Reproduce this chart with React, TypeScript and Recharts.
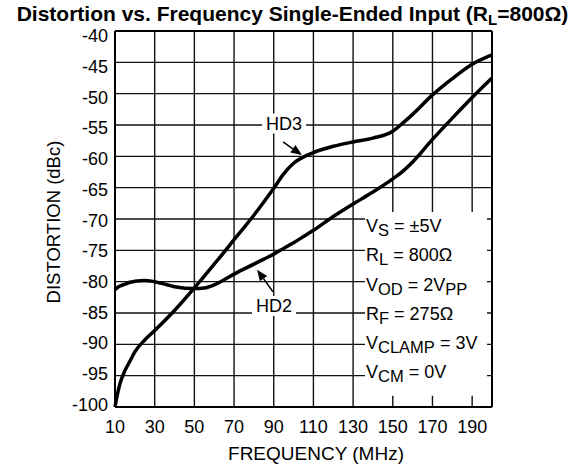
import React from "react";
import {
  LineChart,
  Line,
  XAxis,
  YAxis,
  CartesianGrid,
  ReferenceArea,
  ReferenceLine,
  ReferenceDot,
} from "recharts";

const FONT = "'Liberation Sans', Arial, Helvetica, sans-serif";

// frequency (MHz) and distortion (dBc)
const freq = [10, 11, 12.5, 15, 17.5, 20, 25, 30, 40, 50, 55, 60, 65, 70, 80, 85, 90, 95, 100, 105, 110, 120, 130, 140, 150, 155, 160, 170, 180, 190, 200];
const hd3 = [-100, -98.3, -96.3, -94.2, -92.7, -91.2, -89.3, -87.8, -84.6, -81.0, -79.1, -77.2, -75.3, -73.3, -69.4, -67.3, -65.1, -62.8, -61.1, -60.1, -59.4, -58.4, -57.7, -57.1, -56.0, -54.7, -53.3, -50.2, -47.6, -45.3, -43.8];
const hd2 = [-81.3, -81.0, -80.7, -80.4, -80.1, -79.95, -79.8, -80.0, -80.8, -81.1, -81.0, -80.5, -79.7, -78.8, -77.2, -76.4, -75.6, -74.7, -73.8, -72.8, -71.8, -69.6, -67.6, -65.7, -63.6, -62.4, -60.9, -57.3, -53.9, -50.6, -47.5];

const xTicks = [10, 30, 50, 70, 90, 110, 130, 150, 170, 190];
const yTicks = [-40, -45, -50, -55, -60, -65, -70, -75, -80, -85, -90, -95, -100];

// test conditions: [text, subscript?]
const conditions: [string, boolean][][] = [
  [["V", false], ["S", true], [" = ±5V", false]],
  [["R", false], ["L", true], [" = 800Ω", false]],
  [["V", false], ["OD", true], [" = 2V", false], ["PP", true]],
  [["R", false], ["F", true], [" = 275Ω", false]],
  [["V", false], ["CLAMP", true], [" = 3V", false]],
  [["V", false], ["CM", true], [" = 0V", false]],
];

const data = freq.map((f, i) => ({ f, hd3: hd3[i], hd2: hd2[i] }));

const Arrow = (p: any) => {
  const { x1, y1, x2, y2 } = p;
  const a = Math.atan2(y2 - y1, x2 - x1);
  const len = 11;
  const w = 4.5;
  const bx = x2 - len * Math.cos(a);
  const by = y2 - len * Math.sin(a);
  const px = -Math.sin(a) * w;
  const py = Math.cos(a) * w;
  return (
    <g>
      <line x1={x1} y1={y1} x2={bx} y2={by} stroke="#000" strokeWidth={1.5} />
      <polygon points={`${x2},${y2} ${bx + px},${by + py} ${bx - px},${by - py}`} fill="#000" />
    </g>
  );
};

const tag = (text: string) => (p: any) => (
  <g>
    <rect x={p.cx - 22} y={p.cy - 10} width={44} height={20} fill="#fff" />
    <text x={p.cx} y={p.cy + 6.5} textAnchor="middle" fontSize={18} fontFamily={FONT} fill="#000">
      {text}
    </text>
  </g>
);

const CondBlock = (p: any) => (
  <g fontFamily={FONT} fill="#000">
    {conditions.map((row, i) => (
      <text key={i} x={p.cx} y={p.cy + 20 + i * 29.2} fontSize={18}>
        {row.map(([t, sub], j) => {
          const prevSub = j > 0 && row[j - 1][1];
          const dy = sub ? 4 : prevSub ? -4 : 0;
          return (
            <tspan key={j} dy={dy} fontSize={sub ? 16.5 : 18}>
              {t}
            </tspan>
          );
        })}
      </text>
    ))}
  </g>
);

// the printed y labels drift slightly against the grid, top to bottom
const YTick = (p: any) => {
  const k = (-40 - p.payload.value) / 5;
  const shift = 5 - 0.65 * k;
  return (
    <text x={p.x} y={p.y + shift} dy={6.4} textAnchor="end" fontSize={18} fontFamily={FONT} fill="#000">
      {p.payload.value}
    </text>
  );
};

export default function App() {
  return (
    <div style={{ position: "absolute", left: 0, top: 0, width: 585, height: 466, background: "#fff", fontFamily: FONT }}>
      <div
        style={{
          position: "absolute",
          left: 0,
          top: 3,
          width: 585,
          textAlign: "center",
          fontSize: 21,
          lineHeight: "21px",
          fontWeight: "bold",
          whiteSpace: "nowrap",
        }}
      >
        Distortion vs. Frequency Single-Ended Input (R
        <span style={{ fontSize: 15, verticalAlign: "-4px" }}>L</span>=800Ω)
      </div>
      <LineChart width={585} height={466} data={data} margin={{ top: 31, right: 93, bottom: 0, left: 0 }}>
        <CartesianGrid stroke="#111" strokeWidth={1.4} />
        <XAxis
          dataKey="f"
          type="number"
          domain={[10, 200]}
          ticks={xTicks}
          height={59}
          tickLine={false}
          tickSize={0}
          tickMargin={13}
          axisLine={{ stroke: "#000", strokeWidth: 2 }}
          tick={{ fill: "#000", fontSize: 18, fontFamily: FONT }}
          interval={0}
        />
        <YAxis
          type="number"
          domain={[-100, -40]}
          ticks={yTicks}
          width={115}
          tickLine={false}
          tickSize={0}
          tickMargin={7}
          axisLine={{ stroke: "#000", strokeWidth: 2 }}
          tick={YTick}
          interval={0}
        />
        <ReferenceArea x1={136} x2={197.5} y1={-98.2} y2={-68.9} fill="#fff" fillOpacity={1} stroke="none" />
        <ReferenceLine x={200} stroke="#000" strokeWidth={2} />
        <ReferenceLine y={-40} stroke="#000" strokeWidth={2} />
        <Line dataKey="hd3" type="monotone" stroke="#000" strokeWidth={3.5} dot={false} activeDot={false} isAnimationActive={false} />
        <Line dataKey="hd2" type="monotone" stroke="#000" strokeWidth={3.5} dot={false} activeDot={false} isAnimationActive={false} />
        <ReferenceLine segment={[{ x: 94.7, y: -57.7 }, { x: 104.2, y: -59.8 }]} shape={Arrow} />
        <ReferenceLine segment={[{ x: 89.6, y: -81.6 }, { x: 81.6, y: -78.1 }]} shape={Arrow} />
        <ReferenceDot x={95.2} y={-54.76} shape={tag("HD3")} />
        <ReferenceDot x={90.1} y={-83.88} shape={tag("HD2")} />
        <ReferenceDot x={136.5} y={-68.9} shape={CondBlock} />
      </LineChart>
      <div
        style={{
          position: "absolute",
          left: 53,
          top: 222,
          transform: "translate(-50%, -50%) rotate(-90deg)",
          fontSize: 18.5,
          lineHeight: "19px",
          whiteSpace: "nowrap",
        }}
      >
        DISTORTION (dBc)
      </div>
      <div
        style={{
          position: "absolute",
          left: 316,
          top: 444,
          transform: "translateX(-50%)",
          fontSize: 19,
          lineHeight: "19px",
          whiteSpace: "nowrap",
        }}
      >
        FREQUENCY (MHz)
      </div>
    </div>
  );
}
